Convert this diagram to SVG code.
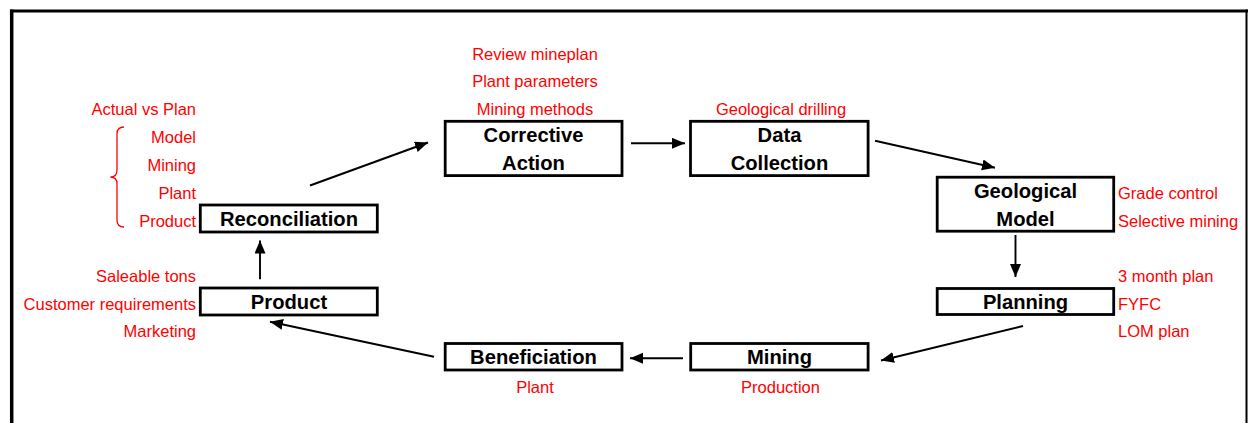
<svg xmlns="http://www.w3.org/2000/svg" width="1249" height="423" viewBox="0 0 1249 423">
<defs>
<style>
.box{fill:#fff;stroke:#000;stroke-width:2.8}
.nl{font-family:"Liberation Sans",Arial,sans-serif;font-weight:bold;font-size:20.2px;fill:#000;text-anchor:middle}
.rl{font-family:"Liberation Sans",Arial,sans-serif;font-size:16.5px;fill:#ff0000}
.r{text-anchor:end}
.m{text-anchor:middle}
.c{stroke:#000;stroke-width:1.9;fill:none;marker-end:url(#ah)}
.frame{stroke:#000;fill:none}
</style>
<marker id="ah" markerUnits="userSpaceOnUse" markerWidth="14" markerHeight="12" refX="13" refY="5.5" orient="auto">
<path d="M0,0 L13,5.5 L0,11 z" fill="#000"/>
</marker>
</defs>
<rect width="1249" height="423" fill="#fff"/>
<g id="frame">
<line class="frame" x1="11.7" y1="9.5" x2="11.7" y2="423" stroke-width="3.5"/>
<line class="frame" x1="10" y1="11" x2="1248" y2="11" stroke-width="3"/>
<line class="frame" x1="1246.5" y1="9.5" x2="1246.5" y2="423" stroke-width="2"/>
</g>
<g id="connectors">
<line class="c" x1="310" y1="185.5" x2="428" y2="142.5"/>
<line class="c" x1="631" y1="143.3" x2="685" y2="143.3"/>
<line class="c" x1="875" y1="140.7" x2="995" y2="167.7"/>
<line class="c" x1="1015.5" y1="235" x2="1015.5" y2="277"/>
<line class="c" x1="1023" y1="326" x2="881" y2="360.5"/>
<line class="c" x1="683" y1="358.3" x2="630" y2="358.3"/>
<line class="c" x1="434" y1="356.7" x2="270" y2="321.7"/>
<line class="c" x1="260" y1="279.3" x2="260" y2="240.5"/>
</g>
<g id="reconciliation">
<rect class="box" x="200.3" y="205" width="177" height="27"/>
<text class="nl" x="289" y="226">Reconciliation</text>
<text class="rl r" x="196" y="115">Actual vs Plan</text>
<text class="rl r" x="196" y="143">Model</text>
<text class="rl r" x="196" y="171">Mining</text>
<text class="rl r" x="196" y="199">Plant</text>
<text class="rl r" x="196" y="226.5">Product</text>
<path d="M124,127 Q117,127 117,134 L117,170 Q117,177 110.5,177 Q117,177 117,184 L117,220 Q117,227 124,227" fill="none" stroke="#ff0000" stroke-width="1.3"/>
</g>
<g id="corrective-action">
<rect class="box" x="445.2" y="121.3" width="176.8" height="54.3"/>
<text class="nl" x="533.5" y="142">Corrective</text>
<text class="nl" x="533.5" y="170">Action</text>
<text class="rl m" x="535" y="59.5">Review mineplan</text>
<text class="rl m" x="535" y="87.3">Plant parameters</text>
<text class="rl m" x="535" y="114.5">Mining methods</text>
</g>
<g id="data-collection">
<rect class="box" x="690.5" y="121.3" width="177.6" height="54.3"/>
<text class="nl" x="779.5" y="142">Data</text>
<text class="nl" x="779.5" y="170">Collection</text>
<text class="rl m" x="781" y="114.5">Geological drilling</text>
</g>
<g id="geological-model">
<rect class="box" x="937.2" y="177.2" width="176.5" height="54"/>
<text class="nl" x="1025.5" y="198">Geological</text>
<text class="nl" x="1025.5" y="225.5">Model</text>
<text class="rl" x="1118" y="199">Grade control</text>
<text class="rl" x="1118" y="226.5">Selective mining</text>
</g>
<g id="planning">
<rect class="box" x="937.2" y="288.5" width="176.5" height="26"/>
<text class="nl" x="1025.5" y="309">Planning</text>
<text class="rl" x="1118" y="282">3 month plan</text>
<text class="rl" x="1118" y="310">FYFC</text>
<text class="rl" x="1118" y="337">LOM plan</text>
</g>
<g id="mining">
<rect class="box" x="690.7" y="343.5" width="177.4" height="26.5"/>
<text class="nl" x="779.5" y="364">Mining</text>
<text class="rl m" x="780.5" y="392.5">Production</text>
</g>
<g id="beneficiation">
<rect class="box" x="445.2" y="343.5" width="176.8" height="26.5"/>
<text class="nl" x="533.5" y="364">Beneficiation</text>
<text class="rl m" x="535" y="392.5">Plant</text>
</g>
<g id="product">
<rect class="box" x="200.3" y="288" width="177" height="27"/>
<text class="nl" x="289" y="309">Product</text>
<text class="rl r" x="196" y="281.7">Saleable tons</text>
<text class="rl r" x="196" y="309.5">Customer requirements</text>
<text class="rl r" x="196" y="337">Marketing</text>
</g>
</svg>
